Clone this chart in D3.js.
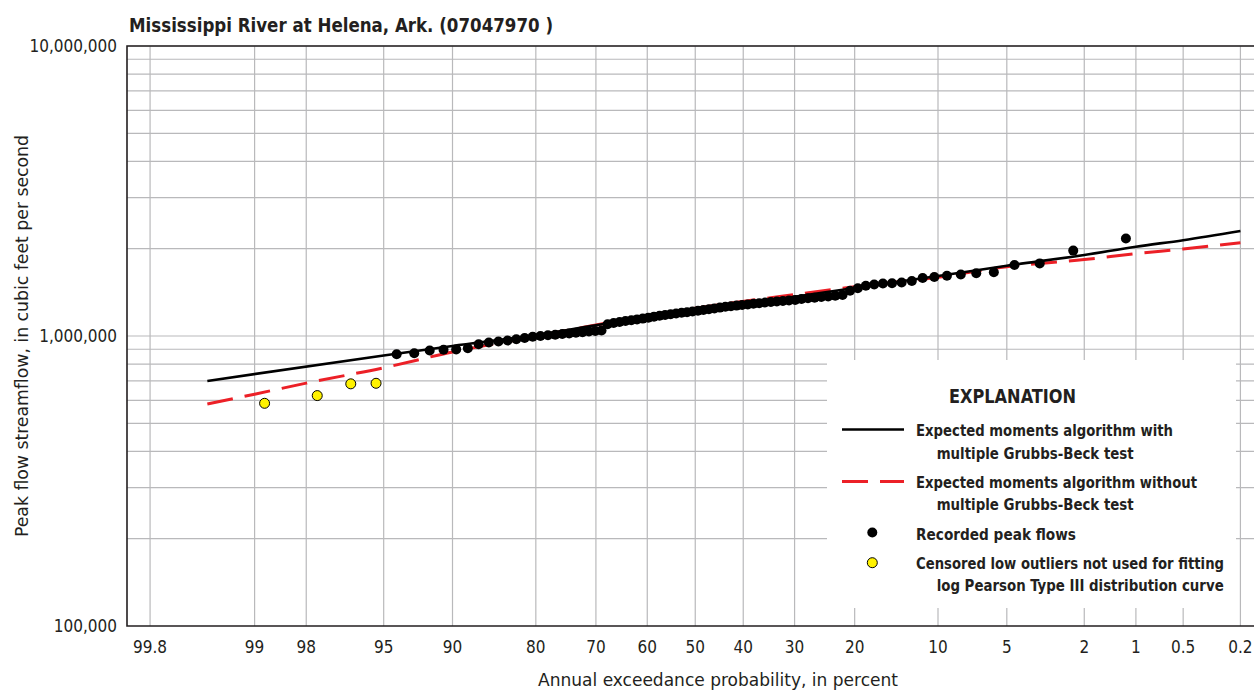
<!DOCTYPE html>
<html>
<head>
<meta charset="utf-8">
<script src="https://cdn.jsdelivr.net/npm/d3@7"></script>
<style>
  body { margin: 0; background: #fff; }
  svg text { font-family: "Liberation Sans Narrow", "DejaVu Sans Condensed", "Arial Narrow", sans-serif; fill: #231f20; }
</style>
</head>
<body>
<div id="chart"></div>
<script>
// DATA
const titleText = "Mississippi River at Helena, Ark. (07047970 )";
const probTicks = [99.8, 99, 98, 95, 90, 80, 70, 60, 50, 40, 30, 20, 10, 5, 2, 1, 0.5, 0.2];
const flowTicks = [100000, 1000000, 10000000];

// recorded peak flows, largest first (cfs)
const recordedPeaks = [2170000, 1970000, 1780000, 1757000, 1658000, 1645000, 1630000, 1614000, 1598000, 1585000,
  1548000, 1530000, 1520000, 1518000, 1505000, 1491000, 1461000, 1433000, 1385000, 1377000,
  1369000, 1363000, 1356000, 1349000, 1342000, 1331000, 1326000, 1320000, 1315000, 1310000,
  1304000, 1298000, 1291000, 1285000, 1279000, 1273000, 1267000, 1261000, 1253000, 1245000,
  1237000, 1229000, 1222000, 1215000, 1208000, 1202000, 1195000, 1188000, 1182000, 1175000,
  1166000, 1157000, 1148000, 1141000, 1134000, 1127000, 1118000, 1109000, 1098000, 1045000,
  1040000, 1036000, 1031000, 1026000, 1021000, 1016000, 1010000, 1006000, 1000000, 994000,
  984000, 974000, 965000, 957000, 950000, 936000, 907000, 899000, 896000, 891000, 872000, 865000];
// censored low outliers (smallest of the record)
const censoredPeaks = [687000, 684000, 623000, 586000];

// fitted curves: exceedance probability (%) and flow
const emaWithProb = [99.5, 95, 90, 80, 70, 50, 30, 20, 10, 5, 2, 1, 0.5, 0.2];
const emaWithFlow = [700000, 857000, 924000, 1008000, 1089000, 1220000, 1366000, 1464000, 1610000, 1747000, 1902000, 2032000, 2140000, 2302000];
const emaWithoutProb = [99.5, 99, 98, 95, 90, 80, 70, 50, 30, 20, 10, 5, 2, 1, 0.5, 0.2];
const emaWithoutFlow = [583000, 630000, 688000, 777000, 881000, 997000, 1091000, 1247000, 1390000, 1478000, 1594000, 1734000, 1835000, 1922000, 1995000, 2097000];

// inverse standard normal (Acklam)
function qnorm(p) {
  const a = [-3.969683028665376e+01, 2.209460984245205e+02, -2.759285104469687e+02, 1.383577518672690e+02, -3.066479806614716e+01, 2.506628277459239e+00];
  const b = [-5.447609879822406e+01, 1.615858368580409e+02, -1.556989798598866e+02, 6.680131188771972e+01, -1.328068155288572e+01];
  const c = [-7.784894002430293e-03, -3.223964580411365e-01, -2.400758277161838e+00, -2.549732539343734e+00, 4.374664141464968e+00, 2.938163982698783e+00];
  const d = [7.784695709041462e-03, 3.224671290700398e-01, 2.445134137142996e+00, 3.754408661907416e+00];
  const pl = 0.02425;
  let q, r;
  if (p < pl) {
    q = Math.sqrt(-2 * Math.log(p));
    return (((((c[0]*q+c[1])*q+c[2])*q+c[3])*q+c[4])*q+c[5]) / ((((d[0]*q+d[1])*q+d[2])*q+d[3])*q+1);
  } else if (p <= 1 - pl) {
    q = p - 0.5; r = q * q;
    return (((((a[0]*r+a[1])*r+a[2])*r+a[3])*r+a[4])*r+a[5])*q / (((((b[0]*r+b[1])*r+b[2])*r+b[3])*r+b[4])*r+1);
  }
  q = Math.sqrt(-2 * Math.log(1 - p));
  return -(((((c[0]*q+c[1])*q+c[2])*q+c[3])*q+c[4])*q+c[5]) / ((((d[0]*q+d[1])*q+d[2])*q+d[3])*q+1);
}
// exceedance percent -> standard normal variate (right = rarer)
const zOf = pct => qnorm(1 - pct / 100);

// Weibull plotting positions for the whole record
const nTotal = recordedPeaks.length + censoredPeaks.length;
const recorded = recordedPeaks.map((q, i) => ({ q, p: 100 * (i + 1) / (nTotal + 1) }));
const censored = censoredPeaks.map((q, i) => ({ q, p: 100 * (recordedPeaks.length + i + 1) / (nTotal + 1) }));

const W = 1254, H = 690;
const plot = { left: 127, top: 46, bottom: 626, right: 1263.5 };

const svg = d3.select("#chart").append("svg")
  .attr("width", W).attr("height", H);

const x = d3.scaleLinear().domain([-3, 3]).range([plot.left, plot.right]);
const y = d3.scaleLog().domain([1e5, 1e7]).range([plot.bottom, plot.top]);

// grid
const minorFlows = [];
[1e5, 1e6].forEach(dec => { for (let k = 2; k <= 10; k++) minorFlows.push(k * dec); });
const grid = svg.append("g").attr("stroke", "#b9b9bb").attr("stroke-width", 1.2);
grid.selectAll("line.h").data(minorFlows).enter().append("line")
  .attr("x1", plot.left).attr("x2", W)
  .attr("y1", d => y(d)).attr("y2", d => y(d));
grid.selectAll("line.v").data(probTicks).enter().append("line")
  .attr("x1", d => x(zOf(d))).attr("x2", d => x(zOf(d)))
  .attr("y1", plot.top).attr("y2", plot.bottom);

// legend background knocks out the grid
const lg = { x0: 827, x1: 1236, y0: 360, y1: 608 };
svg.append("rect").attr("x", lg.x0).attr("y", lg.y0)
  .attr("width", lg.x1 - lg.x0).attr("height", lg.y1 - lg.y0).attr("fill", "#fff");

// frame
svg.append("path")
  .attr("d", `M${W},${plot.top}H${plot.left}V${plot.bottom}H${W}`)
  .attr("fill", "none").attr("stroke", "#231f20").attr("stroke-width", 1.6);

// fitted curves
const line = d3.line().x(d => x(zOf(d[0]))).y(d => y(d[1])).curve(d3.curveMonotoneX);
svg.append("path")
  .datum(d3.zip(emaWithoutProb, emaWithoutFlow))
  .attr("d", line).attr("fill", "none")
  .attr("stroke", "#ec2027").attr("stroke-width", 3).attr("stroke-dasharray", "26,12");
svg.append("path")
  .datum(d3.zip(emaWithProb, emaWithFlow))
  .attr("d", line).attr("fill", "none")
  .attr("stroke", "#000").attr("stroke-width", 2.6);

// points
svg.append("g").selectAll("circle").data(recorded).enter().append("circle")
  .attr("cx", d => x(zOf(d.p))).attr("cy", d => y(d.q)).attr("r", 5).attr("fill", "#000");
svg.append("g").selectAll("circle").data(censored).enter().append("circle")
  .attr("cx", d => x(zOf(d.p))).attr("cy", d => y(d.q)).attr("r", 5)
  .attr("fill", "#fff200").attr("stroke", "#000").attr("stroke-width", 1);

// axes labels
svg.append("g").selectAll("text").data(probTicks).enter().append("text")
  .attr("x", d => x(zOf(d))).attr("y", 653)
  .attr("text-anchor", "middle").attr("font-size", 17)
  .text(d => d);
svg.append("g").selectAll("text").data(flowTicks).enter().append("text")
  .attr("x", 117).attr("y", d => y(d)).attr("dy", "0.36em")
  .attr("text-anchor", "end").attr("font-size", 17)
  .text(d => d3.format(",")(d));

svg.append("text").attr("x", 718).attr("y", 686)
  .attr("text-anchor", "middle").attr("font-size", 18.5)
  .attr("textLength", 360).attr("lengthAdjust", "spacingAndGlyphs")
  .text("Annual exceedance probability, in percent");
svg.append("text")
  .attr("transform", "translate(28,336) rotate(-90)")
  .attr("text-anchor", "middle").attr("font-size", 18.5)
  .attr("textLength", 402).attr("lengthAdjust", "spacingAndGlyphs")
  .text("Peak flow streamflow, in cubic feet per second");

svg.append("text").attr("x", 129).attr("y", 32)
  .attr("font-size", 20).attr("font-weight", "bold")
  .attr("textLength", 424).attr("lengthAdjust", "spacingAndGlyphs")
  .text(titleText);

// legend
const legend = svg.append("g").attr("font-weight", "bold");
legend.append("text").attr("x", 949).attr("y", 403)
  .attr("font-size", 19)
  .attr("textLength", 127).attr("lengthAdjust", "spacingAndGlyphs")
  .text("EXPLANATION");
legend.append("line").attr("x1", 842).attr("x2", 904).attr("y1", 429.5).attr("y2", 429.5)
  .attr("stroke", "#000").attr("stroke-width", 2.6);
legend.append("line").attr("x1", 842).attr("x2", 904).attr("y1", 481.5).attr("y2", 481.5)
  .attr("stroke", "#ec2027").attr("stroke-width", 3).attr("stroke-dasharray", "26,12");
legend.append("circle").attr("cx", 872.3).attr("cy", 532.5).attr("r", 5).attr("fill", "#000");
legend.append("circle").attr("cx", 872.3).attr("cy", 562.7).attr("r", 5)
  .attr("fill", "#fff200").attr("stroke", "#000");

const legendLines = [
  ["Expected moments algorithm with", 916, 436, 257],
  ["multiple Grubbs-Beck test", 936.7, 458.5, 197],
  ["Expected moments algorithm without", 916, 488, 281],
  ["multiple Grubbs-Beck test", 936.7, 510, 197],
  ["Recorded peak flows", 916, 539.5, 160],
  ["Censored low outliers not used for fitting", 916, 569, 308],
  ["log Pearson Type III distribution curve", 936.7, 591, 287]
];
legend.selectAll("text.item").data(legendLines).enter().append("text")
  .attr("x", d => d[1]).attr("y", d => d[2]).attr("font-size", 15.5)
  .attr("textLength", d => d[3]).attr("lengthAdjust", "spacingAndGlyphs")
  .text(d => d[0]);
</script>
</body>
</html>
